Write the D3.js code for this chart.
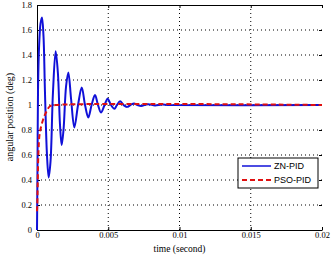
<!DOCTYPE html>
<html>
<head>
<meta charset="utf-8">
<script src="https://cdn.jsdelivr.net/npm/d3@7"></script>
<style>
  body { margin: 0; background: #fff; }
  text { font-family: "Liberation Serif", "DejaVu Serif", serif; }
</style>
</head>
<body>
<div id="chart"></div>
<script>
// time in seconds, angular position in deg
var znTime = [0, 0.000035, 0.00007, 0.00014, 0.000246, 0.00035, 0.000456, 0.00056, 0.0007, 0.00082,
              0.00095, 0.00112, 0.00131, 0.00147, 0.00161, 0.00173, 0.00186, 0.00204, 0.0022, 0.00239,
              0.00262, 0.00288, 0.00314, 0.00337, 0.0036, 0.00383, 0.00407, 0.00428, 0.00449, 0.00474,
              0.00496, 0.00519, 0.00543, 0.00561, 0.00583, 0.00607, 0.00632, 0.00656, 0.00681, 0.00705,
              0.0073, 0.00779, 0.00828, 0.00877, 0.0093, 0.02];
var znValue = [0, 0.5, 1.1, 1.45, 1.65, 1.70, 1.55, 1.1, 0.6, 0.42,
               0.55, 1.1, 1.43, 1.25, 0.85, 0.68, 0.8, 1.15, 1.26, 1.05,
               0.82, 1.0, 1.14, 1.0, 0.9, 1.0, 1.08, 1.0, 0.94, 1.0,
               1.05, 1.0, 0.97, 1.0, 1.03, 1.0, 0.985, 1.0, 1.012, 1.0,
               0.992, 1.006, 0.996, 1.003, 1.0, 1.0];
var psoTime = [0, 0.00002, 0.00005, 0.0001, 0.0002, 0.00042, 0.00063, 0.00091, 0.0013, 0.02];
var psoValue = [0.15, 0.2, 0.36, 0.62, 0.78, 0.88, 0.94, 0.99, 1.0, 1.0];
var xTicks = [0, 0.005, 0.01, 0.015, 0.02];
var xTickLabels = ["0", "0.005", "0.01", "0.015", "0.02"];
var yTicks = [0, 0.2, 0.4, 0.6, 0.8, 1, 1.2, 1.4, 1.6, 1.8];
var seriesNames = ["ZN-PID", "PSO-PID"];
var seriesColors = ["#1010d8", "#e01010"];

var width = 334, height = 260,
    mLeft = 37, mRight = 322, mTop = 5, mBottom = 230;

var svg = d3.select("#chart").append("svg")
    .attr("width", width)
    .attr("height", height);

var x = d3.scaleLinear().domain([0, 0.02]).range([mLeft, mRight]);
var y = d3.scaleLinear().domain([0, 1.8]).range([mBottom, mTop]);

// dotted grid
svg.append("g").selectAll("line").data(xTicks.slice(1, -1)).join("line")
    .attr("x1", d => x(d)).attr("x2", d => x(d))
    .attr("y1", mTop).attr("y2", mBottom)
    .attr("stroke", "#000").attr("stroke-width", 1)
    .attr("stroke-dasharray", "1,3");
svg.append("g").selectAll("line").data(yTicks.slice(1, -1)).join("line")
    .attr("x1", mLeft).attr("x2", mRight)
    .attr("y1", d => y(d)).attr("y2", d => y(d))
    .attr("stroke", "#000").attr("stroke-width", 1)
    .attr("stroke-dasharray", "1,3");

// axes
svg.append("g")
    .attr("transform", "translate(0," + mBottom + ")")
    .call(d3.axisBottom(x).tickValues(xTicks)
        .tickFormat((d, i) => xTickLabels[i])
        .tickSizeInner(-3).tickSizeOuter(0).tickPadding(2));
svg.append("g")
    .attr("transform", "translate(" + mLeft + ",0)")
    .call(d3.axisLeft(y).tickValues(yTicks)
        .tickFormat(d3.format("~g"))
        .tickSizeInner(-3).tickSizeOuter(0).tickPadding(5));
svg.append("g")
    .attr("transform", "translate(0," + mTop + ")")
    .call(d3.axisTop(x).tickValues(xTicks).tickFormat("").tickSizeInner(-3).tickSizeOuter(0));
svg.append("g")
    .attr("transform", "translate(" + mRight + ",0)")
    .call(d3.axisRight(y).tickValues(yTicks).tickFormat("").tickSizeInner(-3).tickSizeOuter(0))
    .select(".domain").remove();

svg.selectAll(".tick text").attr("font-size", 8.5).attr("fill", "#000")
    .style("font-family", "'Liberation Serif', serif");
svg.selectAll(".domain, .tick line").attr("stroke", "#000");

// curves
var line = d3.line()
    .x(d => x(d[0]))
    .y(d => y(d[1]))
    .curve(d3.curveCatmullRom.alpha(0.5));

svg.append("path")
    .datum(znTime.map((t, i) => [t, znValue[i]]))
    .attr("fill", "none")
    .attr("stroke", seriesColors[0])
    .attr("stroke-width", 2)
    .attr("d", line);

svg.append("path")
    .datum(psoTime.map((t, i) => [t, psoValue[i]]))
    .attr("fill", "none")
    .attr("stroke", seriesColors[1])
    .attr("stroke-width", 2)
    .attr("stroke-dasharray", "5,3")
    .attr("d", line);

// axis titles
svg.append("text")
    .attr("x", (mLeft + mRight) / 2)
    .attr("y", 252)
    .attr("text-anchor", "middle")
    .attr("font-size", 9.5)
    .text("time (second)");
svg.append("text")
    .attr("transform", "translate(13,117) rotate(-90)")
    .attr("text-anchor", "middle")
    .attr("font-size", 10)
    .text("angular position (deg)");

// legend
var legend = svg.append("g").attr("transform", "translate(238,158)");
legend.append("rect")
    .attr("width", 80).attr("height", 30)
    .attr("fill", "#fff").attr("stroke", "#000");
seriesNames.forEach(function(name, i) {
    var ly = 8 + i * 14;
    legend.append("line")
        .attr("x1", 4).attr("x2", 33)
        .attr("y1", ly).attr("y2", ly)
        .attr("stroke", seriesColors[i])
        .attr("stroke-width", i ? 2 : 1.5)
        .attr("stroke-dasharray", i ? "5,3" : null);
    legend.append("text")
        .attr("x", 36).attr("y", ly + 3)
        .attr("font-size", 9)
        .style("font-family", "'Liberation Sans', sans-serif")
        .text(name);
});
</script>
</body>
</html>
